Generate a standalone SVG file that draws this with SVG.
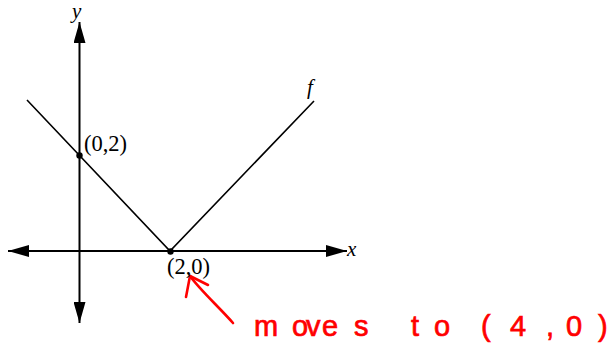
<svg xmlns="http://www.w3.org/2000/svg" width="616" height="360" viewBox="0 0 616 360">
<style>
.ax{stroke:#000;stroke-width:2;fill:none}
.fn{stroke:#000;stroke-width:1.6;fill:none}
.lbl{font-family:"Liberation Serif",serif;font-size:22.5px;fill:#000}
.var{font-family:"Liberation Serif",serif;font-style:italic;font-size:21px;fill:#000}
.hand{font-family:"Liberation Sans",sans-serif;font-size:29px;fill:#f00;stroke:#f00;stroke-width:0.7}
.red{stroke:#f00;stroke-width:2.6;fill:none;stroke-linecap:round;stroke-linejoin:round}
</style>
<defs>
<marker id="ah" markerUnits="userSpaceOnUse" viewBox="0 0 21 12" markerWidth="21" markerHeight="12" refX="21" refY="6" orient="auto-start-reverse">
<path d="M0,0 L21,6 L0,12 z" fill="#000"/>
</marker>
</defs>
<rect width="616" height="360" fill="#fff"/>
<g id="connectors">
<line class="ax" x1="79.5" y1="323" x2="79.5" y2="22" marker-start="url(#ah)" marker-end="url(#ah)"/>
<line class="ax" x1="8" y1="251" x2="347" y2="251" marker-start="url(#ah)" marker-end="url(#ah)"/>
<polyline class="fn" points="27,100 170,251 314,101"/>
<path class="red" d="M233,323 C220,308 200,290 190,276"/>
<polyline class="red" points="186,297 190,276 208,285"/>
</g>
<g id="labels">
<text class="var" x="72" y="18">y</text>
<text class="var" x="347" y="256">x</text>
<text class="var" x="307" y="94">f</text>
</g>
<g id="point-0-2">
<circle cx="79.5" cy="155.5" r="3.2" fill="#000"/>
<text class="lbl" x="84" y="151">(0,2)</text>
</g>
<g id="point-2-0">
<circle cx="170.5" cy="251.5" r="3.2" fill="#000"/>
<text class="lbl" x="167" y="274">(2,0)</text>
</g>
<g id="note">
<text class="hand" y="336"><tspan x="254 292 306 322 354">moves</tspan> <tspan x="411 434">to</tspan> <tspan x="481 510 546 566 598">(4,0)</tspan></text>
</g>
</svg>
